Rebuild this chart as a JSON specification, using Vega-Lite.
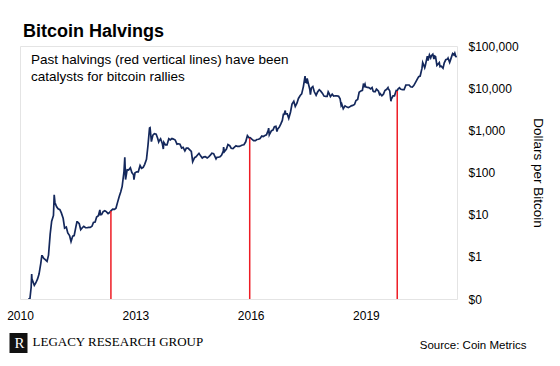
{
  "$schema": "https://vega.github.io/schema/vega-lite/v6.json",
  "width": 437,
  "height": 253,
  "autosize": "none",
  "padding": {"left": 20, "top": 46, "right": 103, "bottom": 67},
  "background": "white",
  "title": {"text": "Bitcoin Halvings", "anchor": "start", "frame": "group", "offset": 13, "baseline": "alphabetic", "dx": 3, "dy": 28, "font": "Liberation Sans", "fontSize": 18, "fontWeight": "bold", "color": "#000000"},
  "config": {"view": {"stroke": "#e4e4e4", "strokeWidth": 1}, "font": "Liberation Sans"},
  "datasets": {
    "btc": [
      {"date": "2010-07-18", "price": 0.086}, {"date": "2010-08-01", "price": 0.063}, {"date": "2010-08-15", "price": 0.07}, {"date": "2010-09-01", "price": 0.062}, {"date": "2010-09-15", "price": 0.061}, {"date": "2010-10-01", "price": 0.062}, {"date": "2010-10-10", "price": 0.1}, {"date": "2010-10-20", "price": 0.1}, {"date": "2010-11-01", "price": 0.19}, {"date": "2010-11-06", "price": 0.39}, {"date": "2010-11-10", "price": 0.25}, {"date": "2010-11-15", "price": 0.27}, {"date": "2010-12-01", "price": 0.21}, {"date": "2010-12-15", "price": 0.24},
      {"date": "2011-01-01", "price": 0.3}, {"date": "2011-01-15", "price": 0.39}, {"date": "2011-02-01", "price": 0.71}, {"date": "2011-02-10", "price": 1.05}, {"date": "2011-02-15", "price": 1.05}, {"date": "2011-03-01", "price": 0.92}, {"date": "2011-03-15", "price": 0.86}, {"date": "2011-04-01", "price": 0.78}, {"date": "2011-04-15", "price": 1.1}, {"date": "2011-05-01", "price": 3.5}, {"date": "2011-05-15", "price": 7.0}, {"date": "2011-06-01", "price": 9.6}, {"date": "2011-06-08", "price": 29.6}, {"date": "2011-06-15", "price": 19.5}, {"date": "2011-07-01", "price": 15.4}, {"date": "2011-07-15", "price": 13.8}, {"date": "2011-08-01", "price": 13.1}, {"date": "2011-08-15", "price": 11.0}, {"date": "2011-09-01", "price": 8.2}, {"date": "2011-09-15", "price": 4.8}, {"date": "2011-10-01", "price": 5.1}, {"date": "2011-10-15", "price": 3.7}, {"date": "2011-11-01", "price": 3.2}, {"date": "2011-11-15", "price": 2.3}, {"date": "2011-12-01", "price": 3.1}, {"date": "2011-12-15", "price": 3.2},
      {"date": "2012-01-01", "price": 5.3}, {"date": "2012-01-10", "price": 6.8}, {"date": "2012-01-15", "price": 6.8}, {"date": "2012-02-01", "price": 6.1}, {"date": "2012-02-15", "price": 4.4}, {"date": "2012-03-01", "price": 4.9}, {"date": "2012-03-15", "price": 5.3}, {"date": "2012-04-01", "price": 4.9}, {"date": "2012-04-15", "price": 4.9}, {"date": "2012-05-01", "price": 5.0}, {"date": "2012-05-15", "price": 5.0}, {"date": "2012-06-01", "price": 5.3}, {"date": "2012-06-15", "price": 6.5}, {"date": "2012-07-01", "price": 6.7}, {"date": "2012-07-15", "price": 8.8}, {"date": "2012-08-01", "price": 9.4}, {"date": "2012-08-15", "price": 13.0}, {"date": "2012-08-20", "price": 10.0}, {"date": "2012-09-01", "price": 10.1}, {"date": "2012-09-15", "price": 11.8}, {"date": "2012-10-01", "price": 12.4}, {"date": "2012-10-15", "price": 11.8}, {"date": "2012-11-01", "price": 10.6}, {"date": "2012-11-15", "price": 11.2}, {"date": "2012-11-28", "price": 12.3}, {"date": "2012-12-15", "price": 13.5},
      {"date": "2013-01-01", "price": 13.3}, {"date": "2013-01-15", "price": 14.2}, {"date": "2013-02-01", "price": 20.4}, {"date": "2013-02-15", "price": 27.1}, {"date": "2013-03-01", "price": 34.5}, {"date": "2013-03-15", "price": 46.9}, {"date": "2013-04-01", "price": 104}, {"date": "2013-04-09", "price": 230}, {"date": "2013-04-16", "price": 68}, {"date": "2013-05-01", "price": 116}, {"date": "2013-05-15", "price": 114}, {"date": "2013-06-01", "price": 129}, {"date": "2013-06-15", "price": 100}, {"date": "2013-07-01", "price": 88}, {"date": "2013-07-05", "price": 68}, {"date": "2013-07-15", "price": 98}, {"date": "2013-08-01", "price": 104}, {"date": "2013-08-15", "price": 104}, {"date": "2013-09-01", "price": 146}, {"date": "2013-09-15", "price": 126}, {"date": "2013-10-01", "price": 133}, {"date": "2013-10-15", "price": 156}, {"date": "2013-11-01", "price": 205}, {"date": "2013-11-15", "price": 435}, {"date": "2013-11-30", "price": 1130}, {"date": "2013-12-05", "price": 1150}, {"date": "2013-12-18", "price": 540},
      {"date": "2014-01-01", "price": 770}, {"date": "2014-01-15", "price": 830}, {"date": "2014-02-01", "price": 810}, {"date": "2014-02-15", "price": 650}, {"date": "2014-02-25", "price": 530}, {"date": "2014-03-01", "price": 560}, {"date": "2014-03-15", "price": 630}, {"date": "2014-04-01", "price": 480}, {"date": "2014-04-10", "price": 360}, {"date": "2014-04-15", "price": 520}, {"date": "2014-05-01", "price": 450}, {"date": "2014-05-15", "price": 450}, {"date": "2014-06-01", "price": 630}, {"date": "2014-06-15", "price": 590}, {"date": "2014-07-01", "price": 640}, {"date": "2014-07-15", "price": 620}, {"date": "2014-08-01", "price": 590}, {"date": "2014-08-18", "price": 470}, {"date": "2014-09-01", "price": 480}, {"date": "2014-09-15", "price": 470}, {"date": "2014-10-01", "price": 380}, {"date": "2014-10-15", "price": 395}, {"date": "2014-11-01", "price": 325}, {"date": "2014-11-15", "price": 380}, {"date": "2014-12-01", "price": 380}, {"date": "2014-12-15", "price": 350},
      {"date": "2015-01-01", "price": 315}, {"date": "2015-01-14", "price": 180}, {"date": "2015-02-01", "price": 225}, {"date": "2015-02-15", "price": 235}, {"date": "2015-03-01", "price": 260}, {"date": "2015-03-15", "price": 285}, {"date": "2015-04-01", "price": 245}, {"date": "2015-04-15", "price": 220}, {"date": "2015-05-01", "price": 235}, {"date": "2015-05-15", "price": 237}, {"date": "2015-06-01", "price": 222}, {"date": "2015-06-15", "price": 235}, {"date": "2015-07-01", "price": 257}, {"date": "2015-07-15", "price": 287}, {"date": "2015-08-01", "price": 280}, {"date": "2015-08-24", "price": 210}, {"date": "2015-09-01", "price": 228}, {"date": "2015-09-15", "price": 230}, {"date": "2015-10-01", "price": 237}, {"date": "2015-10-15", "price": 255}, {"date": "2015-11-01", "price": 320}, {"date": "2015-11-04", "price": 400}, {"date": "2015-11-11", "price": 310}, {"date": "2015-12-01", "price": 360}, {"date": "2015-12-15", "price": 460},
      {"date": "2016-01-01", "price": 432}, {"date": "2016-01-15", "price": 375}, {"date": "2016-02-01", "price": 370}, {"date": "2016-02-15", "price": 400}, {"date": "2016-03-01", "price": 430}, {"date": "2016-03-15", "price": 415}, {"date": "2016-04-01", "price": 415}, {"date": "2016-04-15", "price": 430}, {"date": "2016-05-01", "price": 450}, {"date": "2016-05-15", "price": 455}, {"date": "2016-06-01", "price": 535}, {"date": "2016-06-17", "price": 750}, {"date": "2016-07-01", "price": 675}, {"date": "2016-07-09", "price": 650}, {"date": "2016-07-15", "price": 665}, {"date": "2016-08-01", "price": 610}, {"date": "2016-08-15", "price": 570}, {"date": "2016-09-01", "price": 570}, {"date": "2016-09-15", "price": 605}, {"date": "2016-10-01", "price": 615}, {"date": "2016-10-15", "price": 640}, {"date": "2016-11-01", "price": 730}, {"date": "2016-11-15", "price": 710}, {"date": "2016-12-01", "price": 750}, {"date": "2016-12-15", "price": 780},
      {"date": "2017-01-01", "price": 1000}, {"date": "2017-01-05", "price": 1130}, {"date": "2017-01-11", "price": 780}, {"date": "2017-01-15", "price": 820}, {"date": "2017-02-01", "price": 980}, {"date": "2017-02-15", "price": 1010}, {"date": "2017-03-01", "price": 1220}, {"date": "2017-03-15", "price": 1250}, {"date": "2017-03-25", "price": 940}, {"date": "2017-04-01", "price": 1080}, {"date": "2017-04-15", "price": 1180}, {"date": "2017-05-01", "price": 1420}, {"date": "2017-05-15", "price": 1720}, {"date": "2017-05-25", "price": 2400}, {"date": "2017-06-01", "price": 2400}, {"date": "2017-06-12", "price": 2950}, {"date": "2017-06-15", "price": 2450}, {"date": "2017-07-01", "price": 2450}, {"date": "2017-07-15", "price": 1930}, {"date": "2017-08-01", "price": 2720}, {"date": "2017-08-15", "price": 4200}, {"date": "2017-09-01", "price": 4900}, {"date": "2017-09-15", "price": 3700}, {"date": "2017-10-01", "price": 4400}, {"date": "2017-10-15", "price": 5700}, {"date": "2017-11-01", "price": 6700}, {"date": "2017-11-15", "price": 7300}, {"date": "2017-12-01", "price": 10900}, {"date": "2017-12-17", "price": 19300}, {"date": "2017-12-22", "price": 13800},
      {"date": "2018-01-01", "price": 13400}, {"date": "2018-01-06", "price": 17100}, {"date": "2018-01-15", "price": 13600}, {"date": "2018-02-01", "price": 9100}, {"date": "2018-02-06", "price": 7000}, {"date": "2018-02-15", "price": 10100}, {"date": "2018-03-01", "price": 10900}, {"date": "2018-03-15", "price": 8200}, {"date": "2018-04-01", "price": 6800}, {"date": "2018-04-15", "price": 8100}, {"date": "2018-05-01", "price": 9200}, {"date": "2018-05-15", "price": 8500}, {"date": "2018-06-01", "price": 7500}, {"date": "2018-06-15", "price": 6500}, {"date": "2018-07-01", "price": 6400}, {"date": "2018-07-15", "price": 6400}, {"date": "2018-07-25", "price": 8200}, {"date": "2018-08-01", "price": 7600}, {"date": "2018-08-15", "price": 6300}, {"date": "2018-09-01", "price": 7200}, {"date": "2018-09-15", "price": 6500}, {"date": "2018-10-01", "price": 6600}, {"date": "2018-10-15", "price": 6600}, {"date": "2018-11-01", "price": 6400}, {"date": "2018-11-15", "price": 5600}, {"date": "2018-11-25", "price": 3900}, {"date": "2018-12-01", "price": 4200}, {"date": "2018-12-15", "price": 3250},
      {"date": "2019-01-01", "price": 3800}, {"date": "2019-01-15", "price": 3600}, {"date": "2019-02-01", "price": 3450}, {"date": "2019-02-15", "price": 3600}, {"date": "2019-03-01", "price": 3800}, {"date": "2019-03-15", "price": 3900}, {"date": "2019-04-01", "price": 4100}, {"date": "2019-04-15", "price": 5100}, {"date": "2019-05-01", "price": 5400}, {"date": "2019-05-15", "price": 8000}, {"date": "2019-06-01", "price": 8600}, {"date": "2019-06-15", "price": 8900}, {"date": "2019-06-26", "price": 12900}, {"date": "2019-07-01", "price": 10600}, {"date": "2019-07-10", "price": 12300}, {"date": "2019-07-15", "price": 10800}, {"date": "2019-08-01", "price": 10400}, {"date": "2019-08-15", "price": 10300}, {"date": "2019-09-01", "price": 9600}, {"date": "2019-09-15", "price": 10300}, {"date": "2019-09-25", "price": 8500}, {"date": "2019-10-01", "price": 8300}, {"date": "2019-10-15", "price": 8300}, {"date": "2019-10-26", "price": 9500}, {"date": "2019-11-01", "price": 9200}, {"date": "2019-11-15", "price": 8500}, {"date": "2019-11-25", "price": 7100}, {"date": "2019-12-01", "price": 7400}, {"date": "2019-12-17", "price": 6600},
      {"date": "2020-01-01", "price": 7200}, {"date": "2020-01-15", "price": 8800}, {"date": "2020-02-01", "price": 9400}, {"date": "2020-02-13", "price": 10300}, {"date": "2020-02-15", "price": 9900}, {"date": "2020-03-01", "price": 8600}, {"date": "2020-03-12", "price": 4900}, {"date": "2020-03-15", "price": 5400}, {"date": "2020-04-01", "price": 6600}, {"date": "2020-04-15", "price": 6600}, {"date": "2020-05-01", "price": 8800}, {"date": "2020-05-11", "price": 8600}, {"date": "2020-05-15", "price": 9300}, {"date": "2020-06-01", "price": 10200}, {"date": "2020-06-15", "price": 9400}, {"date": "2020-07-01", "price": 9200}, {"date": "2020-07-15", "price": 9200}, {"date": "2020-08-01", "price": 11800}, {"date": "2020-08-15", "price": 11900}, {"date": "2020-09-01", "price": 11900}, {"date": "2020-09-15", "price": 10800}, {"date": "2020-10-01", "price": 10600}, {"date": "2020-10-15", "price": 11500}, {"date": "2020-11-01", "price": 13700}, {"date": "2020-11-15", "price": 15900}, {"date": "2020-12-01", "price": 18800}, {"date": "2020-12-15", "price": 19400},
      {"date": "2021-01-01", "price": 29400}, {"date": "2021-01-08", "price": 40500}, {"date": "2021-01-15", "price": 36800}, {"date": "2021-01-27", "price": 30400}, {"date": "2021-02-01", "price": 33500}, {"date": "2021-02-15", "price": 48900}, {"date": "2021-02-21", "price": 57500}, {"date": "2021-02-28", "price": 45200}, {"date": "2021-03-13", "price": 61200}, {"date": "2021-03-25", "price": 52300}, {"date": "2021-04-01", "price": 58800}, {"date": "2021-04-14", "price": 63500}, {"date": "2021-04-25", "price": 49000}, {"date": "2021-05-01", "price": 57800}, {"date": "2021-05-10", "price": 56000}, {"date": "2021-05-15", "price": 46700}, {"date": "2021-05-23", "price": 34700}, {"date": "2021-06-01", "price": 36700}, {"date": "2021-06-15", "price": 40200}, {"date": "2021-06-22", "price": 32500}, {"date": "2021-07-01", "price": 33500}, {"date": "2021-07-20", "price": 29800}, {"date": "2021-08-01", "price": 39900}, {"date": "2021-08-15", "price": 47100}, {"date": "2021-09-01", "price": 48900}, {"date": "2021-09-06", "price": 51800}, {"date": "2021-09-21", "price": 40700}, {"date": "2021-10-01", "price": 48200}, {"date": "2021-10-15", "price": 61600}, {"date": "2021-10-20", "price": 66000}, {"date": "2021-11-01", "price": 61000}, {"date": "2021-11-09", "price": 67500}, {"date": "2021-11-18", "price": 57000}, {"date": "2021-11-26", "price": 54000}
    ],
    "halvings": [
      {"date": "2012-11-28", "price": 12.3},
      {"date": "2016-07-09", "price": 650},
      {"date": "2020-05-11", "price": 8600}
    ],
    "note": [
      {"note": "Past halvings (red vertical lines) have been\ncatalysts for bitcoin rallies"}
    ]
  },
  "layer": [
    {
      "data": {"name": "btc"},
      "mark": {"type": "line", "clip": true, "color": "#14285c", "strokeWidth": 1.7},
      "encoding": {
        "x": {
          "field": "date", "type": "temporal",
          "scale": {"domain": [{"year": 2010, "month": 7, "date": 18}, {"year": 2021, "month": 11, "date": 30}]},
          "axis": {
            "orient": "bottom", "grid": false, "domain": false, "ticks": false, "tickSize": 0,
            "values": [{"year": 2010, "month": 7, "date": 18}, {"year": 2013, "month": 7, "date": 18}, {"year": 2016, "month": 7, "date": 18}, {"year": 2019, "month": 7, "date": 18}],
            "format": "%Y", "labelFont": "Liberation Sans", "labelFontSize": 12, "labelColor": "#000000", "labelPadding": 11, "labelFlush": false, "labelOverlap": false,
            "title": "Source: Coin Metrics", "titleFont": "Liberation Sans", "titleFontSize": 11.5, "titleFontWeight": "normal", "titleColor": "#000000",
            "titleX": 506, "titleY": 49, "titleAlign": "right", "titleBaseline": "alphabetic"
          }
        },
        "y": {
          "field": "price", "type": "quantitative",
          "scale": {"type": "log", "domain": [0.1, 100000]},
          "axis": {
            "orient": "right", "grid": false, "domain": false, "ticks": false, "tickSize": 0,
            "values": [0.1, 1, 10, 100, 1000, 10000, 100000], "format": "$,.0f",
            "labelFont": "Liberation Sans", "labelFontSize": 12, "labelColor": "#000000", "labelPadding": 11, "labelAlign": "left", "labelFlush": false, "labelOverlap": false,
            "title": "Dollars per Bitcoin", "titleFont": "Liberation Sans", "titleFontSize": 13.5, "titleFontWeight": "normal", "titleColor": "#000000",
            "titleAngle": 90, "titleX": 80, "titleY": 126.5, "titleAlign": "center", "titleBaseline": "middle"
          }
        }
      }
    },
    {
      "data": {"name": "halvings"},
      "mark": {"type": "rule", "strokeWidth": 1.5},
      "encoding": {
        "x": {
          "field": "date", "type": "temporal",
          "scale": {"domain": [{"year": 2010, "month": 7, "date": 18}, {"year": 2021, "month": 11, "date": 30}]},
          "axis": {
            "orient": "bottom", "grid": false, "domain": false, "ticks": false, "labels": false, "tickSize": 0,
            "title": "LEGACY RESEARCH GROUP", "titleFont": "Liberation Serif", "titleFontSize": 13, "titleFontWeight": "normal", "titleColor": "#000000",
            "titleX": 12, "titleY": 46, "titleAlign": "left", "titleBaseline": "alphabetic"
          }
        },
        "y": {"field": "price", "type": "quantitative", "scale": {"type": "log", "domain": [0.1, 100000]}, "axis": null},
        "y2": {"datum": 0.1},
        "color": {
          "datum": "R", "type": "nominal", "scale": {"range": ["#ee1c24"]},
          "legend": {
            "orient": "none", "legendX": -10.5, "legendY": 287, "title": null, "fillColor": "#111111", "padding": 2,
            "symbolType": "circle", "symbolSize": 0, "symbolStrokeWidth": 0, "symbolOpacity": 0, "labelOffset": -12,
            "labelExpr": "'R'", "labelColor": "#ffffff", "labelFont": "Liberation Serif", "labelFontSize": 15
          }
        }
      }
    },
    {
      "data": {"name": "note"},
      "mark": {"type": "text", "align": "left", "baseline": "alphabetic", "lineBreak": "\n", "lineHeight": 17, "font": "Liberation Sans", "fontSize": 13.5, "color": "#000000"},
      "encoding": {
        "x": {"datum": {"year": 2010, "month": 10, "date": 31}, "type": "temporal", "scale": {"domain": [{"year": 2010, "month": 7, "date": 18}, {"year": 2021, "month": 11, "date": 30}]}, "axis": null},
        "y": {"datum": 37400, "type": "quantitative", "scale": {"type": "log", "domain": [0.1, 100000]}, "axis": null},
        "text": {"field": "note"}
      }
    }
  ],
  "resolve": {"axis": {"x": "independent", "y": "independent"}}
}
